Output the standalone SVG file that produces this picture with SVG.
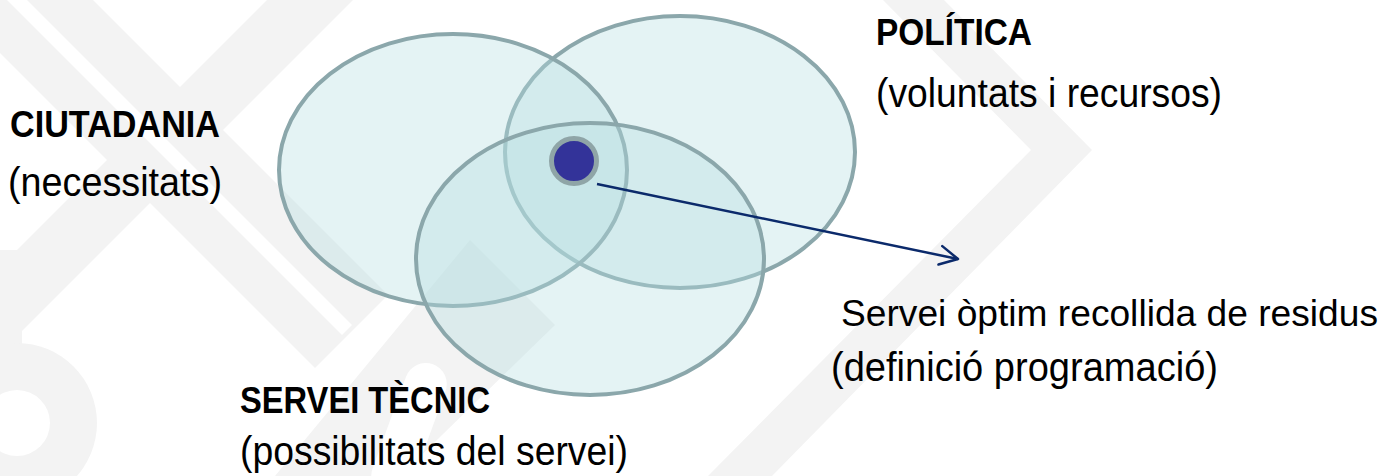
<svg xmlns="http://www.w3.org/2000/svg" width="1393" height="476" viewBox="0 0 1393 476">
  <defs>
    <style>
      .wm { fill: #F3F3F3; }
      .wmw { fill: #FFFFFF; }
      .set { fill: rgb(182,223,225); fill-opacity: 0.37; stroke: #8BA7AB; stroke-width: 4; }
      .title { font-family: "Liberation Sans", Arial, sans-serif; font-weight: bold; font-size: 36px; fill: #000; }
      .sub { font-family: "Liberation Sans", Arial, sans-serif; font-size: 40px; fill: #000; }
      .conn { stroke: #0B2A6B; stroke-width: 2.5; fill: none; }
    </style>
    <marker id="openArrow" viewBox="0 0 20 20" refX="19" refY="10" markerWidth="20" markerHeight="20" markerUnits="userSpaceOnUse" orient="auto" overflow="visible">
      <path d="M1,0.6 L19,10 L1,19.4" fill="none" stroke="#0B2A6B" stroke-width="2.5" stroke-linecap="round" stroke-linejoin="round"/>
    </marker>
  </defs>

  <rect x="0" y="0" width="1393" height="476" fill="#FFFFFF"/>

  <g id="watermark">
    <polygon class="wm" points="267,0 353,0 0,353 0,267"/>
    <polygon class="wm" points="0,0 93,0 388,295 315,368 0,53"/>
    <polygon class="wmw" points="7,0 27,0 352,325 342,335"/>
    <rect class="wm" x="0" y="250" width="22" height="226"/>
    <circle class="wm" cx="17" cy="423" r="80"/>
    <circle class="wmw" cx="17" cy="423" r="33"/>
    <polygon class="wm" points="470,240 555,325 400,476 275,476"/>
    <rect class="wmw" x="388" y="360" width="42" height="140" rx="21" transform="rotate(20 409 430)"/>
    <polygon class="wm" points="883,0 944,0 1092,150 772,476 708,476 1031,150"/>
  </g>

  <g id="politica">
    <ellipse class="set" cx="680" cy="152" rx="175" ry="136"/>
    <text class="title" x="876" y="45" textLength="156" lengthAdjust="spacingAndGlyphs">POLÍTICA</text>
    <text class="sub" x="876" y="107" textLength="346" lengthAdjust="spacingAndGlyphs">(voluntats i recursos)</text>
  </g>

  <g id="ciutadania">
    <ellipse class="set" cx="453" cy="170" rx="174" ry="136"/>
    <text class="title" x="10" y="137" textLength="210" lengthAdjust="spacingAndGlyphs">CIUTADANIA</text>
    <text class="sub" x="8" y="196" textLength="214" lengthAdjust="spacingAndGlyphs">(necessitats)</text>
  </g>

  <g id="servei-tecnic">
    <ellipse class="set" cx="590" cy="259" rx="174" ry="136"/>
    <text class="title" x="240" y="413" textLength="250" lengthAdjust="spacingAndGlyphs">SERVEI TÈCNIC</text>
    <text class="sub" x="240" y="465" textLength="388" lengthAdjust="spacingAndGlyphs">(possibilitats del servei)</text>
  </g>

  <g id="servei-optim">
    <circle cx="574" cy="161" r="22.5" fill="#333399" stroke="#8FA5A7" stroke-width="5"/>
    <text class="sub" x="841" y="326" style="font-size:37px" textLength="537" lengthAdjust="spacingAndGlyphs">Servei òptim recollida de residus</text>
    <text class="sub" x="831" y="381" textLength="387" lengthAdjust="spacingAndGlyphs">(definició programació)</text>
  </g>

  <g id="connectors">
    <line class="conn" x1="597" y1="184" x2="958" y2="259" marker-end="url(#openArrow)"/>
  </g>
</svg>
